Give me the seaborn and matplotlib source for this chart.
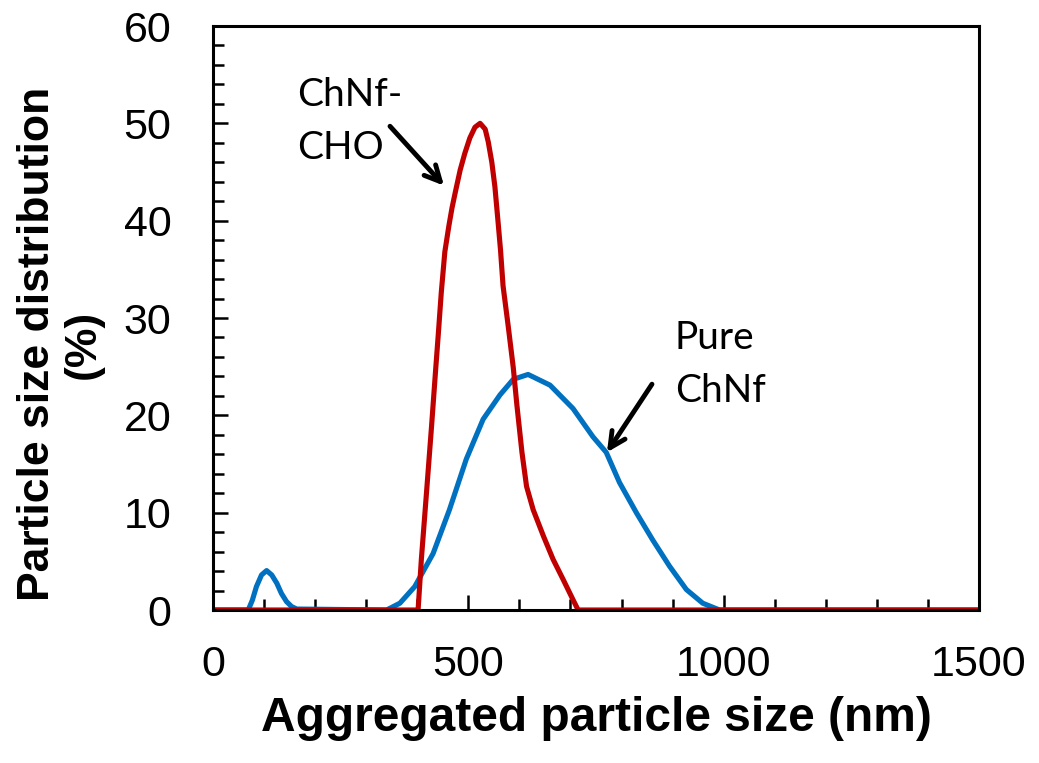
import numpy as np
import pandas as pd
import matplotlib
matplotlib.use("Agg")
import matplotlib.pyplot as plt
import seaborn as sns

# ---- data ----
pure_x = [0, 69, 77, 85, 95, 105, 115, 125, 134, 144, 154, 164, 340, 366, 395, 431, 463, 496,
          529, 562, 588, 617, 660, 705, 744, 770, 796, 829, 861, 894, 927, 959, 992, 1500]
pure_y = [0, 0, 1.0, 2.4, 3.6, 4.05, 3.6, 2.75, 1.7, 0.86, 0.35, 0.1, 0, 0.7, 2.4, 5.8, 10.3, 15.5,
          19.6, 22.1, 23.7, 24.2, 23.1, 20.7, 17.8, 16.2, 13.1, 10.0, 7.2, 4.5, 2.1, 0.7, 0, 0]

cho_x = [0, 401.6, 408, 418, 428, 436, 441, 447, 454, 462, 468, 474, 484, 493, 503, 513, 523,
         533, 539, 546, 552, 558, 563, 568, 578, 588, 595, 605, 614, 627, 647, 666, 686, 705.5,
         715, 1500]
cho_y = [0, 0, 5.2, 12.0, 18.9, 24.7, 28.2, 32.6, 36.8, 39.5, 41.3, 42.8, 45.2, 46.9, 48.5, 49.6,
         50.0, 49.4, 48.1, 46.0, 43.5, 40.0, 37.0, 33.3, 29.2, 24.9, 21.1, 16.2, 12.7, 10.3, 7.6,
         5.2, 3.1, 1.0, 0, 0]

x_major = [0, 500, 1000, 1500]
y_major = [0, 10, 20, 30, 40, 50, 60]

blue = "#0070C0"
red = "#C00000"

sns.set_style("white")
plt.rcParams["font.family"] = ["Liberation Sans", "DejaVu Sans"]
plt.rcParams["text.color"] = "black"
plt.rcParams["axes.labelcolor"] = "black"
plt.rcParams["xtick.color"] = "black"
plt.rcParams["ytick.color"] = "black"

fig = plt.figure(figsize=(10.39, 7.63), dpi=100)
ax = fig.add_axes([213 / 1039, 1 - 610 / 763, (979 - 213) / 1039, (610 - 26) / 763])

df_pure = pd.DataFrame({"x": pure_x, "y": pure_y})
df_cho = pd.DataFrame({"x": cho_x, "y": cho_y})
sns.lineplot(data=df_pure, x="x", y="y", ax=ax, color=blue, lw=3.7, sort=False,
             solid_joinstyle="round", solid_capstyle="butt")
sns.lineplot(data=df_cho, x="x", y="y", ax=ax, color=red, lw=3.7, sort=False,
             solid_joinstyle="round", solid_capstyle="butt")

ax.set_xlim(0, 1500)
ax.set_ylim(0, 60)
ax.set_xticks(x_major)
ax.set_yticks(y_major)
ax.set_xticks(np.arange(0, 1501, 100), minor=True)
ax.set_yticks(np.arange(0, 61, 2), minor=True)

for s in ax.spines.values():
    s.set_linewidth(2.2)
    s.set_color("black")
    s.set_visible(True)

ax.tick_params(axis="both", which="both", direction="in", color="black", width=1.8,
               bottom=True, left=True, top=False, right=False)
ax.tick_params(axis="both", which="major", length=10.5, labelsize=31, labelcolor="black")
ax.tick_params(axis="both", which="minor", length=8)
ax.tick_params(axis="x", which="major", pad=25)
ax.tick_params(axis="y", which="major", pad=30)

ax.set_xlabel("Aggregated particle size (nm)", fontsize=34.5, fontweight="bold", labelpad=8)
ax.set_ylabel("Particle size distribution\n(%)", fontsize=32, fontweight="bold",
              linespacing=1.15)
ax.yaxis.set_label_coords(-0.143, 0.455)

ann_font = ["Lato", "DejaVu Sans"]
ax.text(164.5, 54.8, "ChNf-\nCHO", fontsize=28, family=ann_font, ha="left", va="top",
        linespacing=1.6, color="black")
ax.text(904.6, 29.8, "Pure\nChNf", fontsize=28, family=ann_font, ha="left", va="top",
        linespacing=1.6, color="black")

arrow_kw = dict(arrowstyle="->", lw=3.5, color="black", mutation_scale=28,
                shrinkA=0, shrinkB=0)
ax.annotate("", xy=(452.3, 43.6), xytext=(346.6, 49.7), arrowprops=arrow_kw)
ax.annotate("", xy=(771.5, 16.2), xytext=(859.6, 23.2), arrowprops=arrow_kw)

fig.savefig("out.png", dpi=100, facecolor="white")
